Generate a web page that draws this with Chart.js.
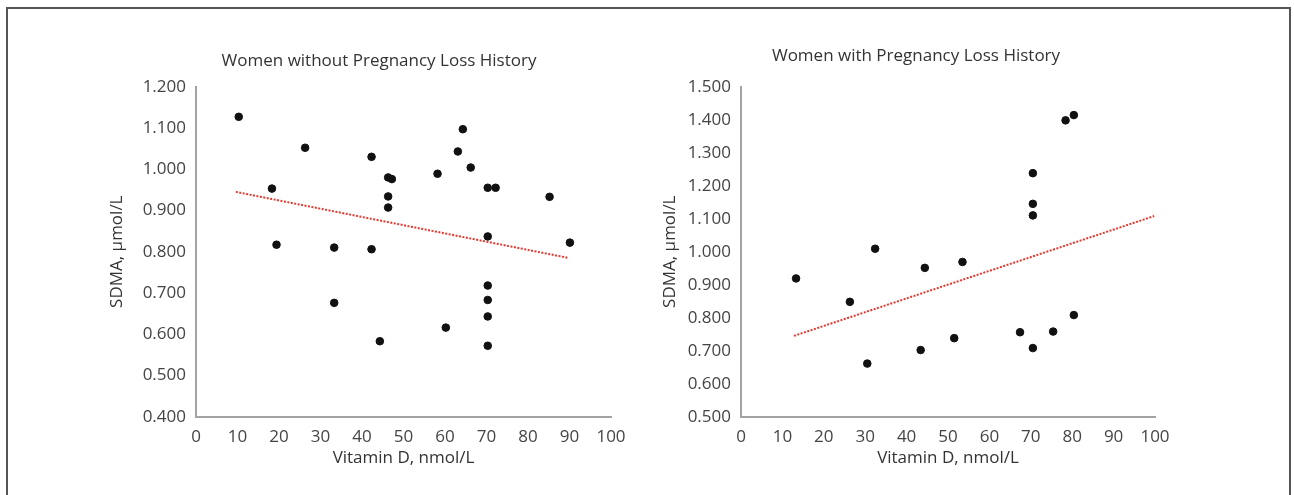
<!DOCTYPE html>
<html>
<head>
<meta charset="utf-8">
<script src="https://cdn.jsdelivr.net/npm/chart.js@4.4.1/dist/chart.umd.min.js"></script>
<style>
  body { margin: 0; background: #fff; width: 1294px; height: 495px; overflow: hidden; position: relative; }
  #frame { position: absolute; left: 6px; top: 7px; width: 1281px; height: 600px; border: 2px solid #555; }
  #left-wrap { position: absolute; left: 0; top: 0; width: 647px; height: 495px; }
  #right-wrap { position: absolute; left: 647px; top: 0; width: 647px; height: 495px; }
</style>
</head>
<body>
<div id="frame"></div>
<div id="left-wrap"><canvas id="no-loss-chart"></canvas></div>
<div id="right-wrap"><canvas id="loss-chart"></canvas></div>
<script>
// women without pregnancy loss history
let vitd_no_loss = [10.3, 18.3, 19.4, 26.3, 33.3, 33.3, 42.3, 42.3, 44.3, 46.3, 47.2, 46.3, 46.3, 58.2, 60.2, 63.1, 64.3, 66.2, 70.3, 72.2, 70.3, 70.3, 70.3, 70.3, 70.3, 85.2, 90.1];
let sdma_no_loss = [1.127, 0.953, 0.817, 1.052, 0.810, 0.676, 1.030, 0.806, 0.583, 0.980, 0.976, 0.934, 0.907, 0.989, 0.616, 1.043, 1.097, 1.004, 0.955, 0.955, 0.837, 0.718, 0.683, 0.643, 0.572, 0.933, 0.822];
let trend_x_no_loss = [9.6, 89.7];
let trend_y_no_loss = [0.945, 0.785];

// women with pregnancy loss history
let vitd_loss = [13.3, 26.3, 30.5, 32.4, 43.4, 44.4, 51.5, 53.5, 67.4, 70.5, 70.5, 70.5, 70.5, 75.4, 78.4, 80.4, 80.4];
let sdma_loss = [0.919, 0.848, 0.661, 1.009, 0.702, 0.951, 0.738, 0.969, 0.756, 1.238, 1.145, 1.110, 0.708, 0.758, 1.398, 1.414, 0.808];
let trend_x_loss = [12.8, 99.8];
let trend_y_loss = [0.745, 1.108];

// axis ticks
let x_ticks = [0, 10, 20, 30, 40, 50, 60, 70, 80, 90, 100];
let y_ticks_no_loss = [0.4, 0.5, 0.6, 0.7, 0.8, 0.9, 1.0, 1.1, 1.2];
let y_ticks_loss = [0.5, 0.6, 0.7, 0.8, 0.9, 1.0, 1.1, 1.2, 1.3, 1.4, 1.5];

let font_family = "'Open Sans', Lato, sans-serif";

function toPoints(xs, ys) {
    return xs.map((x, i) => ({x: x, y: ys[i]}));
}

// move the title sideways after layout (title sits a bit left of plot centre)
let titleShift = {
    id: 'titleShift',
    afterLayout(chart, args, opts) {
        let t = chart.titleBlock;
        if (!t) return;
        let w = t.right - t.left;
        let c = (chart.chartArea.left + chart.chartArea.right) / 2 + opts.offset;
        t.left = c - w / 2;
        t.right = c + w / 2;
    }
};

function makeChart(ctx, cfg) {
    return new Chart(ctx, {
        type: 'scatter',
        data: {
            datasets: [{
                label: 'points',
                data: toPoints(cfg.xs, cfg.ys),
                backgroundColor: '#111',
                borderColor: '#111',
                pointRadius: 3.8,
                pointHoverRadius: 3.8
            }, {
                label: 'trend',
                type: 'line',
                data: toPoints(cfg.trendX, cfg.trendY),
                borderColor: '#e8382f',
                borderWidth: 2,
                borderDash: [2, 1.5],
                pointRadius: 0,
                fill: false
            }]
        },
        options: {
            responsive: false,
            animation: false,
            layout: { padding: { left: 0, right: cfg.padRight, top: 0, bottom: 0 } },
            plugins: {
                legend: { display: false },
                tooltip: { enabled: false },
                title: {
                    display: true,
                    text: cfg.title,
                    color: '#333',
                    font: { family: font_family, size: 17, weight: 'normal' },
                    padding: { top: cfg.titleTop, bottom: 86.7 - 20.4 - cfg.titleTop }
                },
                titleShift: { offset: cfg.titleOffset }
            },
            scales: {
                x: {
                    type: 'linear',
                    min: 0,
                    max: 100,
                    afterBuildTicks: axis => { axis.ticks = x_ticks.map(v => ({value: v})); },
                    afterFit: axis => { axis.height = 495 - 416.7; },
                    grid: { display: false, drawTicks: false },
                    border: { display: true, color: '#a3a3a3', width: 2 },
                    ticks: { color: '#444', padding: 10, font: { family: font_family, size: 17 } },
                    title: {
                        display: true,
                        text: 'Vitamin D, nmol/L',
                        color: '#333',
                        font: { family: font_family, size: 17 },
                        padding: { top: 0, bottom: 27 }
                    }
                },
                y: {
                    type: 'linear',
                    min: cfg.yTicks[0],
                    max: cfg.yTicks[cfg.yTicks.length - 1],
                    afterBuildTicks: axis => { axis.ticks = cfg.yTicks.map(v => ({value: v})); },
                    afterFit: axis => { axis.width = cfg.yWidth; },
                    grid: { display: false, drawTicks: false },
                    border: { display: true, color: '#a3a3a3', width: 2 },
                    ticks: {
                        color: '#444',
                        padding: 10,
                        font: { family: font_family, size: 17 },
                        callback: v => Number(v).toFixed(3)
                    },
                    title: {
                        display: true,
                        text: 'SDMA, µmol/L',
                        color: '#333',
                        font: { family: font_family, size: 17 },
                        padding: { top: cfg.yTitlePad, bottom: 0 }
                    }
                }
            }
        },
        plugins: [titleShift]
    });
}

let no_loss_canvas = document.getElementById('no-loss-chart');
no_loss_canvas.width = 647; no_loss_canvas.height = 495;
let loss_canvas = document.getElementById('loss-chart');
loss_canvas.width = 647; loss_canvas.height = 495;

// left chart
let no_loss_chart = makeChart(no_loss_canvas.getContext('2d'), {
    xs: vitd_no_loss, ys: sdma_no_loss,
    trendX: trend_x_no_loss, trendY: trend_y_no_loss,
    yTicks: y_ticks_no_loss,
    title: 'Women without Pregnancy Loss History',
    padRight: 36, yWidth: 196, yTitlePad: 107,
    titleTop: 50.8, titleOffset: -24.5
});

// right chart
let loss_chart = makeChart(loss_canvas.getContext('2d'), {
    xs: vitd_loss, ys: sdma_loss,
    trendX: trend_x_loss, trendY: trend_y_loss,
    yTicks: y_ticks_loss,
    title: 'Women with Pregnancy Loss History',
    padRight: 139, yWidth: 94, yTitlePad: 13,
    titleTop: 45.8, titleOffset: -32
});
</script>
</body>
</html>
